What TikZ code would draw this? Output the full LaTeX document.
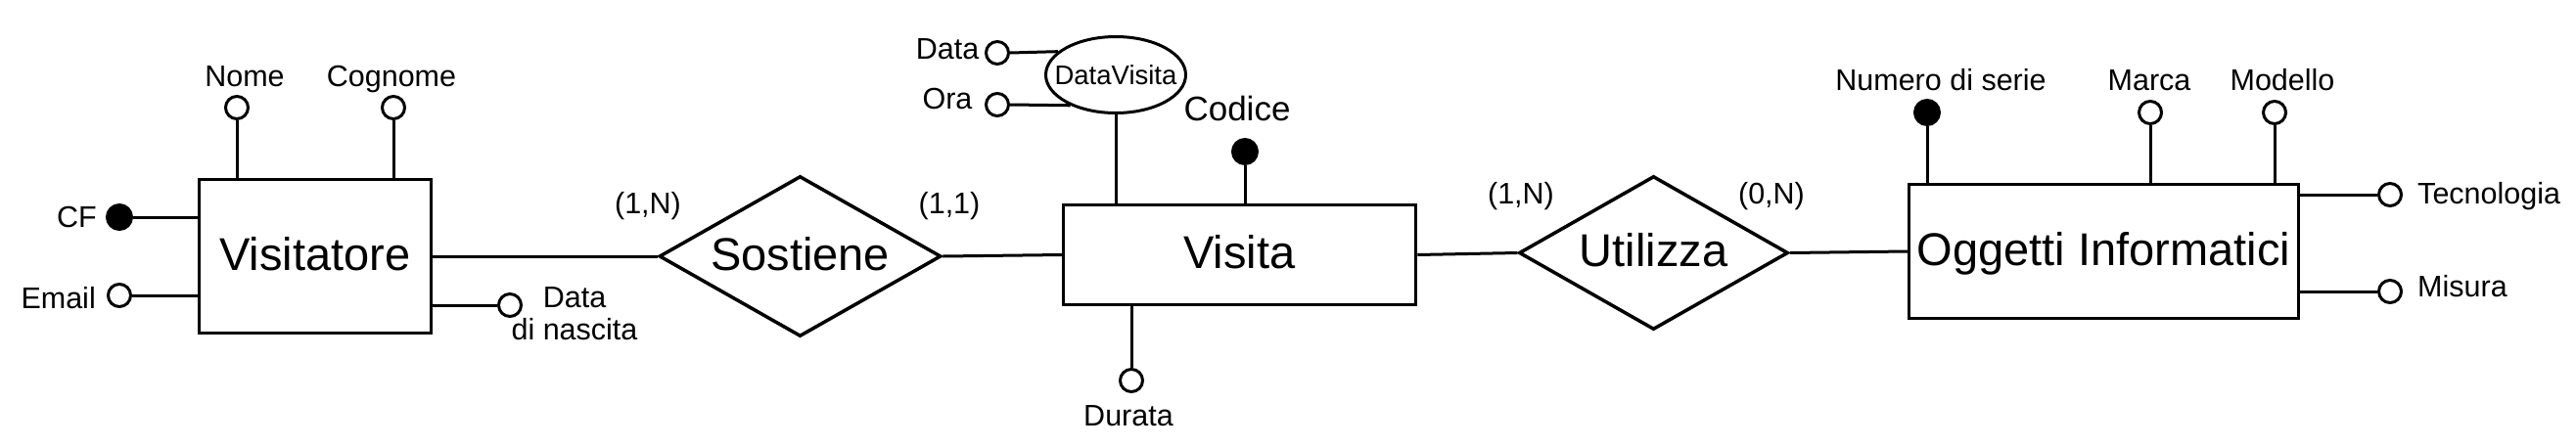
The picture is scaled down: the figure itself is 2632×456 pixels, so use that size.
\documentclass[tikz,border=0pt]{standalone}
\usepackage{fontspec}
\setmainfont{Liberation Sans}
\usetikzlibrary{shapes.geometric}
\begin{document}
\begin{tikzpicture}[x=1pt,y=-1pt,
  ent/.style={draw, line width=3.5pt, inner sep=0pt, font=\fontsize{47}{50}\selectfont, text height=34pt, text depth=6pt},
  rel/.style={diamond, draw, line width=3.5pt, inner sep=0pt, aspect=1.75, fill=white, font=\fontsize{47}{50}\selectfont, text height=34pt, text depth=6pt},
  attr/.style={circle, draw, line width=3pt, fill=white, minimum size=23pt, inner sep=0pt},
  keyattr/.style={circle, draw, fill=black, line width=3pt, minimum size=25pt, inner sep=0pt},
  lbl/.style={inner sep=0pt, font=\fontsize{30.5}{33}\selectfont},
  conn/.style={line width=3pt}]
\fill[white] (0,0) rectangle (2632,456);
\useasboundingbox (0,0) rectangle (2632,456);

% entities
\node[ent, minimum width=237pt, minimum height=157pt] (vis) at (322,262) {Visitatore};
\node[ent, minimum width=360pt, minimum height=102pt] (visita) at (1266.5,260.5) {Visita};
\node[ent, minimum width=398pt, minimum height=137pt] (ogg) at (2149.5,257) {Oggetti Informatici};

% relationships
\node[rel, minimum width=288pt, minimum height=164pt] (sos) at (817.5,262) {Sostiene};
\node[rel, minimum width=275pt, minimum height=157pt] (uti) at (1689.5,258.5) {Utilizza};

% composite attribute
\node[ellipse, draw, line width=3pt, fill=white, minimum width=143pt, minimum height=78pt, inner sep=0pt,
      label={[lbl, font=\fontsize{27.5}{30}\selectfont]center:DataVisita}] (dv) at (1140,76.5) {};

% attribute circles
\node[attr] (nome) at (242,110) {};
\node[attr] (cogn) at (402,110) {};
\node[keyattr] (cf) at (122,222) {};
\node[attr] (email) at (122,302) {};
\node[attr] (dnasc) at (521,312) {};
\node[attr] (data) at (1019,54) {};
\node[attr] (ora) at (1019,107) {};
\node[keyattr] (cod) at (1272,155) {};
\node[attr] (dur) at (1156,389) {};
\node[keyattr] (num) at (1969,115) {};
\node[attr] (marca) at (2197,115) {};
\node[attr] (mod) at (2324,115) {};
\node[attr] (tec) at (2442,199) {};
\node[attr] (mis) at (2442,298) {};

% labels
\node[lbl, anchor=base] (lnome) at (250,88) {Nome};
\node[lbl, anchor=base] (lcogn) at (400,88) {Cognome};
\node[lbl, anchor=base east] (lcf) at (99,232) {CF};
\node[lbl, anchor=base east] (lemail) at (98,315) {Email};
\node[lbl, anchor=base, align=center] (ldn) at (587,347) {Data\\di nascita};
\node[lbl, anchor=base] (c1) at (662,218) {(1,N)};
\node[lbl, anchor=base] (c2) at (970,218) {(1,1)};
\node[lbl, anchor=base] (ldata) at (968,60) {Data};
\node[lbl, anchor=base] (lora) at (968,111) {Ora};
\node[lbl, anchor=base, font=\fontsize{35}{38}\selectfont] (lcod) at (1264,123) {Codice};
\node[lbl, anchor=base] (ldur) at (1153,435) {Durata};
\node[lbl, anchor=base] (c3) at (1554,208) {(1,N)};
\node[lbl, anchor=base] (c4) at (1810,208) {(0,N)};
\node[lbl, anchor=base] (lnum) at (1983,92) {Numero di serie};
\node[lbl, anchor=base] (lmarca) at (2196,92) {Marca};
\node[lbl, anchor=base] (lmod) at (2332,92) {Modello};
\node[lbl, anchor=base west] (ltec) at (2470,208) {Tecnologia};
\node[lbl, anchor=base west] (lmis) at (2470,303) {Misura};

% relationship connectors
\draw[conn] (vis.east) -- (sos.west);
\draw[conn] (sos.east) -- (visita.west);
\draw[conn] (visita.east) -- (uti.west);
\draw[conn] (uti.east) -- (ogg.west);

% attribute connectors
\draw[conn] (nome.south) -- (nome.south |- vis.north);
\draw[conn] (cogn.south) -- (cogn.south |- vis.north);
\draw[conn] (cf.east) -- (cf.east -| vis.west);
\draw[conn] (email.east) -- (email.east -| vis.west);
\draw[conn] (dnasc.west) -- (dnasc.west -| vis.east);
\draw[conn] (data.east) -- (dv.158.9);
\draw[conn] (ora.east) -- (dv.214.4);
\draw[conn] (dv.south) -- (dv.south |- visita.north);
\draw[conn] (cod.south) -- (cod.south |- visita.north);
\draw[conn] (dur.north) -- (dur.north |- visita.south);
\draw[conn] (num.south) -- (num.south |- ogg.north);
\draw[conn] (marca.south) -- (marca.south |- ogg.north);
\draw[conn] (mod.south) -- (mod.south |- ogg.north);
\draw[conn] (tec.west) -- (tec.west -| ogg.east);
\draw[conn] (mis.west) -- (mis.west -| ogg.east);
\end{tikzpicture}
\end{document}
